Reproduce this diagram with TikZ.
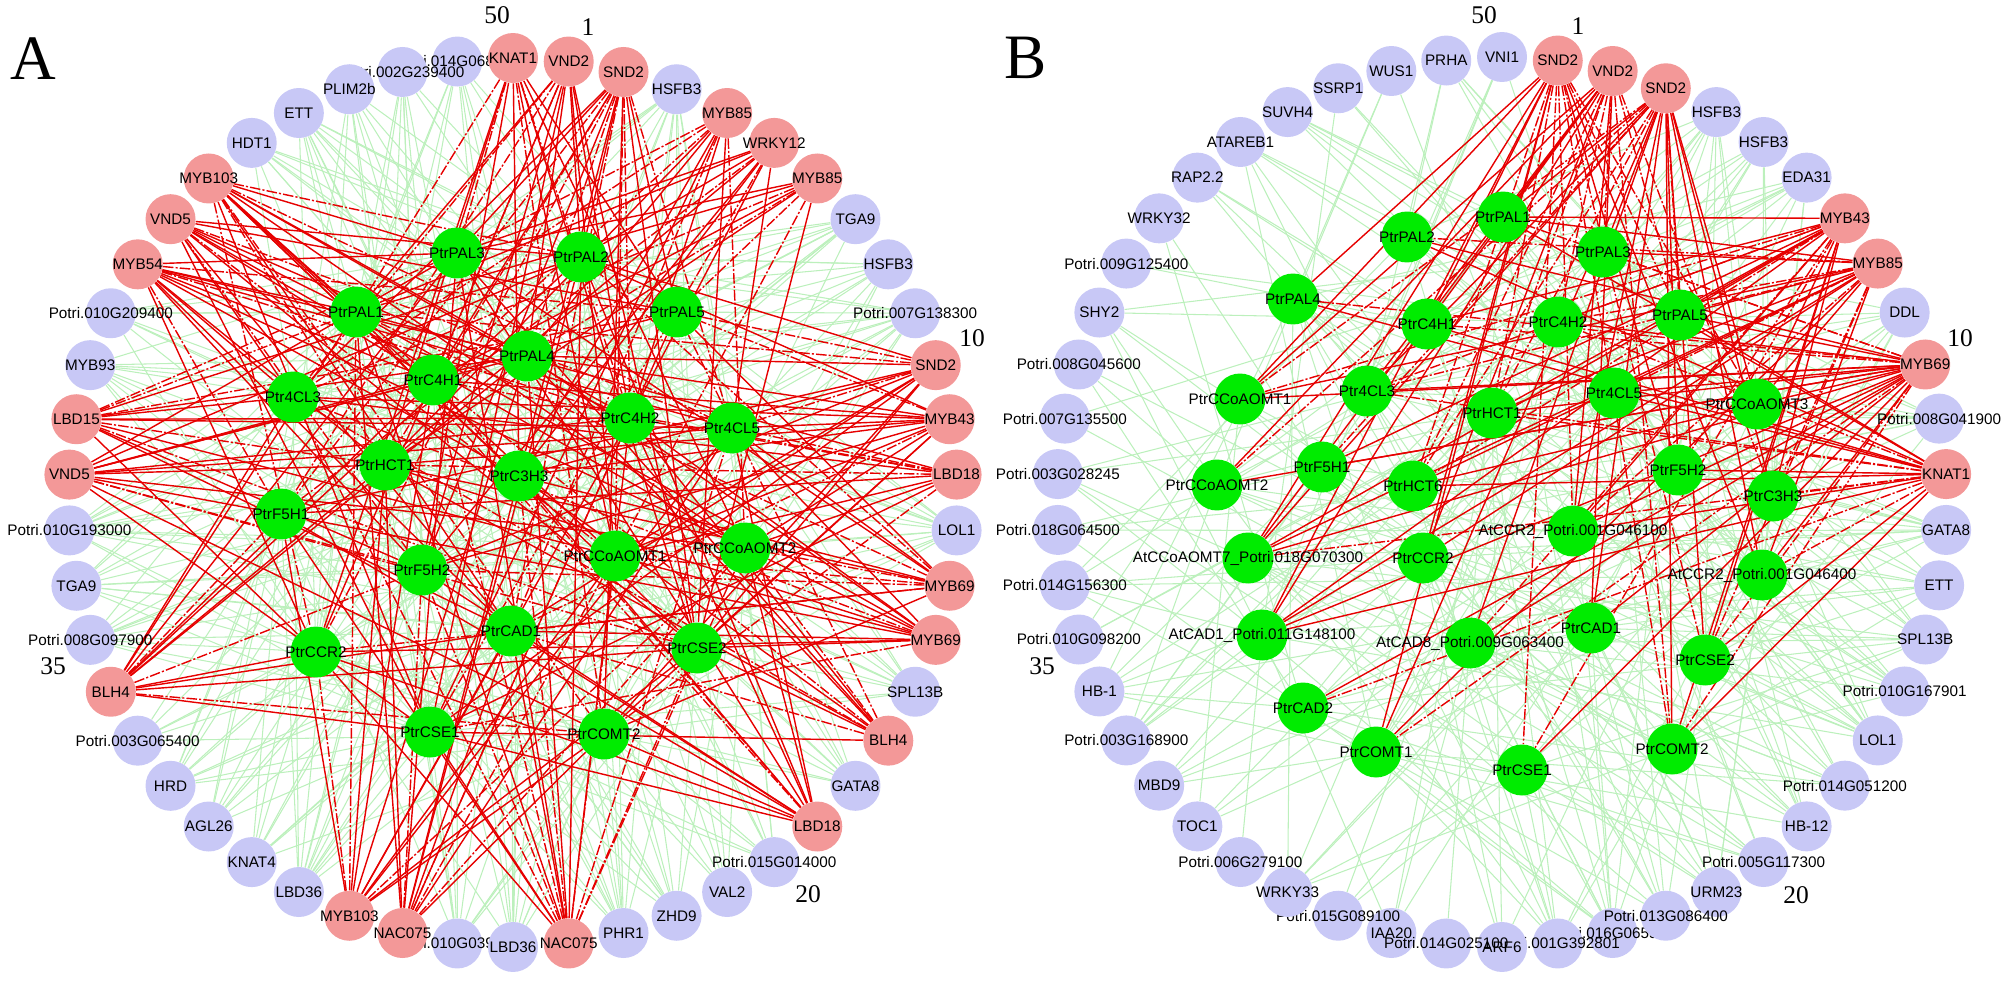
\documentclass[tikz,border=0pt]{standalone}
\usepackage{fontspec}
\setmainfont{Liberation Sans}
\newfontfamily\serifnum{Liberation Serif}
\definecolor{rednode}{RGB}{243,152,152}
\definecolor{bluenode}{RGB}{200,200,246}
\definecolor{greennode}{RGB}{0,236,0}
\definecolor{redline}{RGB}{230,0,0}
\definecolor{greenline}{RGB}{188,240,188}
\pgfdeclarelayer{edgelayer}
\pgfsetlayers{edgelayer,main}
\tikzset{
  tfnode/.style={circle, minimum size=1cm, inner sep=0pt, draw=none},
  tf-r/.style={tfnode, fill=rednode},
  tf-b/.style={tfnode, fill=bluenode},
  genenode/.style={circle, minimum size=1.02cm, inner sep=0pt, fill=greennode},
  lbl/.style={inner sep=0pt, font=\fontsize{8.7}{10}\selectfont, text=black},
  gedge/.style={draw=greenline, line width=0.6pt},
  redge/.style={draw=redline, line width=0.8pt},
  rdash/.style={redge, dash pattern=on 6pt off 1.2pt on 1.2pt off 1.2pt},
  numlbl/.style={inner sep=0pt, font=\serifnum\fontsize{14.5}{15}\selectfont},
  panellbl/.style={inner sep=0pt, font=\serifnum\fontsize{36}{36}\selectfont},
}
\begin{document}
\begin{tikzpicture}[x=0.02cm,y=-0.02cm]
\useasboundingbox (0,0) rectangle (2007,983);

% ---------------- Panel A ----------------
\foreach \j/\xx/\yy/\t in {1/457/253/PtrPAL3, 2/581/257/PtrPAL2, 3/356/312/PtrPAL1, 4/677/312/PtrPAL5,
  5/527/356/PtrPAL4, 6/433/380/PtrC4H1, 7/293/397/Ptr4CL3, 8/630/418/PtrC4H2, 9/732/428/Ptr4CL5,
  10/385/465/PtrHCT1, 11/519/476/PtrC3H3, 12/281/514/PtrF5H1, 13/745/548/PtrCCoAOMT2,
  14/615/556/PtrCCoAOMT1, 15/422/570/PtrF5H2, 16/511/631/PtrCAD1, 17/316/652/PtrCCR2,
  18/697/648/PtrCSE2, 19/430/732/PtrCSE1, 20/604/734/PtrCOMT2}{
  \node[genenode] (ga\j) at (\xx,\yy) {};
  \node[lbl] (lga\j) at (ga\j) {\t};
}

\foreach \k/\t/\c in {49/Potri.014G068100/b, 48/Potri.002G239400/b, 26/Potri.010G039300/b,
  1/VND2/r, 2/SND2/r, 3/HSFB3/b, 4/MYB85/r, 5/WRKY12/r, 6/MYB85/r, 7/TGA9/b, 8/HSFB3/b,
  9/Potri.007G138300/b, 10/SND2/r, 11/MYB43/r, 12/LBD18/r, 13/LOL1/b, 14/MYB69/r, 15/MYB69/r,
  16/SPL13B/b, 17/BLH4/r, 18/GATA8/b, 19/LBD18/r, 20/Potri.015G014000/b, 21/VAL2/b, 22/ZHD9/b,
  23/PHR1/b, 24/NAC075/r, 25/LBD36/b, 27/NAC075/r, 28/MYB103/r, 29/LBD36/b, 30/KNAT4/b,
  31/AGL26/b, 32/HRD/b, 33/Potri.003G065400/b, 34/BLH4/r, 35/Potri.008G097900/b, 36/TGA9/b,
  37/Potri.010G193000/b, 38/VND5/r, 39/LBD15/r, 40/MYB93/b, 41/Potri.010G209400/b, 42/MYB54/r,
  43/VND5/r, 44/MYB103/r, 45/HDT1/b, 46/ETT/b, 47/PLIM2b/b, 50/KNAT1/r}{
  \node[tf-\c] (a\k) at ({513+444.5*sin(7.2*\k)},{502.5-444.5*cos(7.2*\k)}) {};
  \node[lbl] (la\k) at (a\k) {\t};
}

\begin{pgfonlayer}{edgelayer}
\foreach \i in {3,7,8,9,13,16,18,20,21,22,23,25,26,29,30,31,32,33,35,36,37,40,41,45,46,47,48,49}{
  \foreach \j in {1,...,20}{
    \pgfmathtruncatemacro\hv{mod(mod(\i*\j,101)*31+mod(\i*\i,101)*7+mod(\j*\j,101)*13+\i*17+\j*5,101)}
    \ifnum\hv<52 \draw[gedge] (a\i) -- (ga\j);\fi
  }
}
\foreach \i in {1,2,4,5,6,10,11,12,14,15,17,19,24,27,28,34,38,39,42,43,44,50}{
  \foreach \j in {1,...,20}{
    \pgfmathtruncatemacro\hv{mod(mod(\i*\j,101)*31+mod(\i*\i,101)*7+mod(\j*\j,101)*13+\i*17+\j*5,101)}
    \ifnum\hv<22 \draw[rdash] (a\i) -- (ga\j);\else\ifnum\hv<63 \draw[redge] (a\i) -- (ga\j);\fi\fi
  }
}
\end{pgfonlayer}

\node[panellbl] (pA) at (33,59) {A};
\node[numlbl] (nA50) at (497,15) {50};
\node[numlbl] (nA1) at (588,27) {1};
\node[numlbl] (nA10) at (972,338) {10};
\node[numlbl] (nA35) at (53,666) {35};
\node[numlbl] (nA20) at (808,894) {20};

% ---------------- Panel B ----------------
\foreach \j/\xx/\yy/\t in {1/1503/217/PtrPAL1, 2/1407/237/PtrPAL2, 3/1603/252/PtrPAL3,
  4/1293/299/PtrPAL4, 5/1680/315/PtrPAL5, 6/1427/324/PtrC4H1, 7/1558/322/PtrC4H2,
  8/1367/391/Ptr4CL3, 9/1614/393/Ptr4CL5, 10/1240/399/PtrCCoAOMT1, 11/1757/404/PtrCCoAOMT3,
  12/1492/413/PtrHCT1, 13/1322/467/PtrF5H1, 14/1678/470/PtrF5H2, 15/1217/485/PtrCCoAOMT2,
  16/1413/486/PtrHCT6, 17/1773/496/PtrC3H3, 18/1573/531/AtCCR2\_Potri.001G046100,
  19/1248/558/AtCCoAOMT7\_Potri.018G070300, 20/1423/558/PtrCCR2,
  21/1762/575/AtCCR2\_Potri.001G046400, 22/1591/628/PtrCAD1,
  23/1262/635/AtCAD1\_Potri.011G148100, 24/1470/643/AtCAD8\_Potri.009G063400,
  25/1705/660/PtrCSE2, 26/1303/708/PtrCAD2, 27/1672/749/PtrCOMT2, 28/1376/752/PtrCOMT1,
  29/1522/770/PtrCSE1}{
  \node[genenode] (gb\j) at (\xx,\yy) {};
  \node[lbl] (lgb\j) at (gb\j) {\t};
}

\foreach \k/\t/\c in {23/Potri.016G065500/b,
  1/SND2/r, 2/VND2/r, 3/SND2/r, 4/HSFB3/b, 5/HSFB3/b, 6/EDA31/b, 7/MYB43/r, 8/MYB85/r, 9/DDL/b,
  10/MYB69/r, 11/Potri.008G041900/b, 12/KNAT1/r, 13/GATA8/b, 14/ETT/b, 15/SPL13B/b,
  16/Potri.010G167901/b, 17/LOL1/b, 18/Potri.014G051200/b, 19/HB-12/b, 20/Potri.005G117300/b,
  21/URM23/b, 22/Potri.013G086400/b, 24/Potri.001G392801/b, 25/ARF6/b, 27/IAA20/b,
  26/Potri.014G025100/b, 28/Potri.015G089100/b, 29/WRKY33/b, 30/Potri.006G279100/b, 31/TOC1/b,
  32/MBD9/b, 33/Potri.003G168900/b, 34/HB-1/b, 35/Potri.010G098200/b, 36/Potri.014G156300/b,
  37/Potri.018G064500/b, 38/Potri.003G028245/b, 39/Potri.007G135500/b, 40/Potri.008G045600/b,
  41/SHY2/b, 42/Potri.009G125400/b, 43/WRKY32/b, 44/RAP2.2/b, 45/ATAREB1/b, 46/SUVH4/b,
  47/SSRP1/b, 48/WUS1/b, 49/PRHA/b, 50/VNI1/b}{
  \node[tf-\c] (b\k) at ({1502+445*sin(7.2*\k)},{502-445*cos(7.2*\k)}) {};
  \node[lbl] (lb\k) at (b\k) {\t};
}

\begin{pgfonlayer}{edgelayer}
\foreach \i in {4,5,6,9,11,13,14,15,16,17,18,19,20,21,22,23,24,25,26,27,28,29,30,31,32,33,34,35,36,37,38,39,40,41,42,43,44,45,46,47,48,49,50}{
  \foreach \j in {1,...,29}{
    \pgfmathtruncatemacro\hv{mod(mod(\i*\j,103)*29+mod(\i*\i,103)*11+mod(\j*\j,103)*17+\i*13+\j*7+5,103)}
    \ifnum\i<25
      \ifnum\hv<36 \draw[gedge] (b\i) -- (gb\j);\fi
    \else
      \ifnum\hv<15 \draw[gedge] (b\i) -- (gb\j);\fi
    \fi
  }
}
\foreach \i in {1,2,3,7,8,10,12}{
  \foreach \j in {1,...,29}{
    \pgfmathtruncatemacro\hv{mod(mod(\i*\j,103)*29+mod(\i*\i,103)*11+mod(\j*\j,103)*17+\i*13+\j*7+5,103)}
    \ifnum\hv<26 \draw[rdash] (b\i) -- (gb\j);\else\ifnum\hv<66 \draw[redge] (b\i) -- (gb\j);\fi\fi
  }
}
\end{pgfonlayer}

\node[panellbl] (pB) at (1026,58) {B};
\node[numlbl] (nB50) at (1484,15) {50};
\node[numlbl] (nB1) at (1578,26) {1};
\node[numlbl] (nB10) at (1960,338) {10};
\node[numlbl] (nB35) at (1042,666) {35};
\node[numlbl] (nB20) at (1796,895) {20};
\end{tikzpicture}
\end{document}
